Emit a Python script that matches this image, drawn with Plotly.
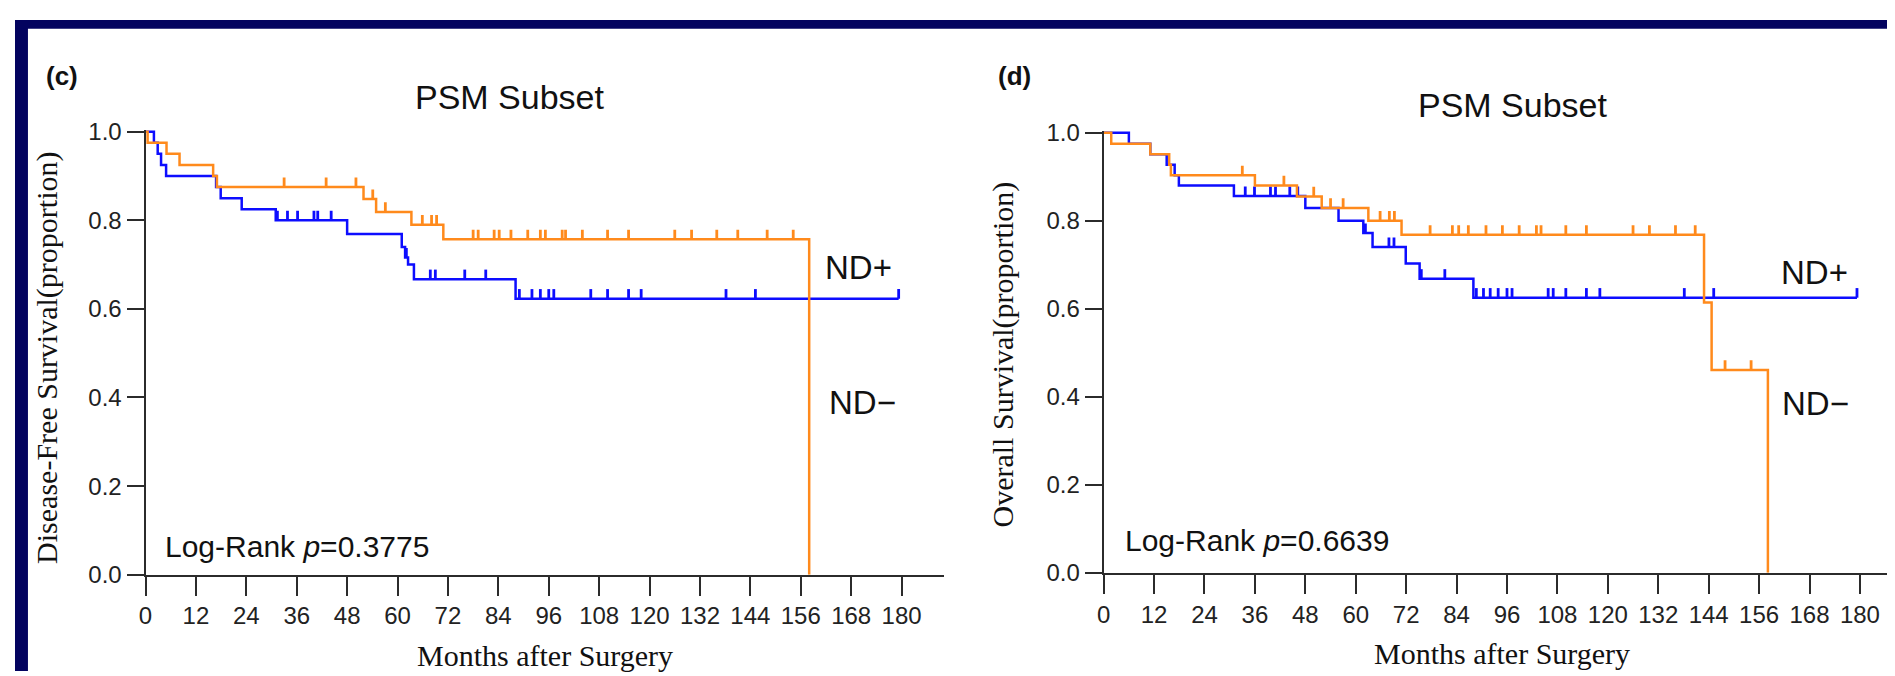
import plotly.graph_objects as go

W, H = 1895, 676

# ---------------- data ----------------
month_ticks = list(range(0, 181, 12))
surv_ticks = [0.0, 0.2, 0.4, 0.6, 0.8, 1.0]

# Panel (c) Disease-free survival
c_neg_times = [0.5, 5.0, 8.1, 16.1, 17.0, 51.9, 54.9, 63.3, 70.9, 158.0]
c_neg_surv = [0.975, 0.950, 0.925, 0.900, 0.875, 0.848, 0.819, 0.790, 0.757, 0.0]
c_neg_cens = [33.0, 43.0, 50.1, 54.1, 57.1, 65.9, 68.1, 69.3, 78.0, 79.2, 83.0, 84.2,
              87.0, 91.0, 94.0, 95.2, 99.2, 100.0, 104.0, 110.0, 115.0, 126.0, 130.0,
              136.0, 141.0, 148.0, 154.2]

c_pos_times = [2.0, 2.9, 3.7, 4.9, 16.8, 17.9, 22.9, 31.0, 48.0, 61.0, 61.8, 62.5, 63.9, 88.1]
c_pos_surv = [0.975, 0.950, 0.925, 0.900, 0.875, 0.850, 0.825, 0.800, 0.769, 0.740,
              0.716, 0.700, 0.667, 0.623]
c_pos_cens = [31.4, 33.8, 36.2, 40.1, 41.0, 44.2, 62.1, 67.8, 69.0, 76.0, 81.0, 89.0,
              92.0, 94.0, 96.0, 97.2, 106.0, 110.0, 115.0, 118.0, 138.2, 145.2, 179.3]

# Panel (d) Overall survival
d_neg_times = [1.8, 11.1, 15.6, 16.0, 36.0, 46.0, 51.9, 63.0, 70.9, 142.9, 144.7, 158.1]
d_neg_surv = [0.975, 0.951, 0.927, 0.903, 0.880, 0.855, 0.829, 0.800, 0.768, 0.614, 0.461, 0.0]
d_neg_cens = [33.0, 42.9, 50.0, 54.0, 57.0, 65.8, 68.0, 69.2, 77.7, 83.0, 84.5, 86.8,
              91.0, 94.9, 98.9, 103.0, 104.1, 110.0, 114.9, 126.0, 129.9, 136.1, 140.8,
              147.9, 154.1]

d_pos_times = [6.0, 11.1, 15.0, 16.9, 17.9, 31.0, 48.0, 55.9, 61.8, 64.0, 71.9, 75.2, 88.0]
d_pos_surv = [0.975, 0.951, 0.927, 0.903, 0.880, 0.856, 0.829, 0.800, 0.772, 0.740,
              0.703, 0.668, 0.625]
d_pos_cens = [33.7, 35.9, 39.7, 40.9, 44.3, 46.2, 62.3, 67.9, 69.1, 75.6, 81.2, 88.7,
              90.4, 92.0, 93.9, 96.0, 97.2, 105.8, 107.0, 110.0, 114.9, 118.1, 138.2,
              145.2, 179.3]

# ---------------- style ----------------
ORANGE = "#FF8A1C"
BLUE = "#0D0DFF"
AXIS = "#2b2b2b"
NAVY = "#03035F"
SANS = "Liberation Sans, Arial, sans-serif"
SERIF = "Liberation Serif, Times New Roman, serif"

# pixel layout
c_x0, c_ppm = 131.0, 4.216
d_x0, d_ppm = 1092.7, 4.217
c_xmax, d_xmax = 190, 189
c_ybot, c_ytop = 576.0, 116.0
d_ybot, d_ytop = 574.0, 117.0
YTOP = 1.004
CENS_PX = 10.0


def step_path(times, surv, cens):
    xs = [0.0] + list(times)
    ys = [1.0] + list(surv)
    end = max(cens) if cens else times[-1]
    if end > times[-1] and surv[-1] > 0:
        xs.append(end)
        ys.append(surv[-1])
    return xs, ys


def surv_at(t, times, surv):
    s = 1.0
    for ti, si in zip(times, surv):
        if ti <= t:
            s = si
    return s


def add_curve(fig, times, surv, cens, color, xa, ya, unit_px):
    xs, ys = step_path(times, surv, cens)
    fig.add_trace(go.Scatter(x=xs, y=ys, mode="lines", line=dict(color=color, width=2.5, shape="hv"),
                             xaxis=xa, yaxis=ya, showlegend=False, hoverinfo="skip"))
    d = CENS_PX / unit_px
    cx, cy = [], []
    for t in cens:
        s = surv_at(t, times, surv)
        cx += [t, t, None]
        cy += [s, s + d, None]
    fig.add_trace(go.Scatter(x=cx, y=cy, mode="lines", line=dict(color=color, width=2.8),
                             xaxis=xa, yaxis=ya, showlegend=False, hoverinfo="skip"))


fig = go.Figure()
c_unit = c_ybot - c_ytop
d_unit = d_ybot - d_ytop
add_curve(fig, c_pos_times, c_pos_surv, c_pos_cens, BLUE, "x", "y", c_unit)
add_curve(fig, c_neg_times, c_neg_surv, c_neg_cens, ORANGE, "x", "y", c_unit)
add_curve(fig, d_pos_times, d_pos_surv, d_pos_cens, BLUE, "x2", "y2", d_unit)
add_curve(fig, d_neg_times, d_neg_surv, d_neg_cens, ORANGE, "x2", "y2", d_unit)


def px_x(p):
    return p / W


def px_y(p):
    return 1 - p / H


axis_common = dict(showline=True, linecolor=AXIS, linewidth=2, ticks="outside", tickwidth=2,
                   tickcolor=AXIS, showgrid=False, zeroline=False,
                   tickfont=dict(family=SANS, size=24, color="#222"))

c_top_px = c_ytop - (YTOP - 1) * c_unit
d_top_px = d_ytop - (YTOP - 1) * d_unit

fig.update_layout(
    width=W, height=H,
    margin=dict(l=0, r=0, t=0, b=0),
    paper_bgcolor="white", plot_bgcolor="white",
    xaxis=dict(domain=[px_x(c_x0), px_x(c_x0 + c_xmax * c_ppm)], range=[0, c_xmax],
               tickvals=month_ticks, ticklen=19, anchor="y", **axis_common),
    yaxis=dict(domain=[px_y(c_ybot), px_y(c_top_px)], range=[0, YTOP],
               tickvals=surv_ticks, tickformat=".1f", ticklen=17, anchor="x", **axis_common),
    xaxis2=dict(domain=[px_x(d_x0), px_x(d_x0 + d_xmax * d_ppm)], range=[0, d_xmax],
                tickvals=month_ticks, ticklen=19, anchor="y2", **axis_common),
    yaxis2=dict(domain=[px_y(d_ybot), px_y(d_top_px)], range=[0, YTOP],
                tickvals=surv_ticks, tickformat=".1f", ticklen=17, anchor="x2", **axis_common),
)


def ann(text, x, y, size, family=SANS, angle=0, bold=False):
    t = f"<b>{text}</b>" if bold else text
    fig.add_annotation(text=t, x=px_x(x), y=px_y(y), xref="paper", yref="paper",
                       xanchor="center", yanchor="middle", showarrow=False, textangle=angle,
                       font=dict(family=family, size=size, color="#111"))


# panel labels and titles
ann("(c)", 47, 58, 26, bold=True)
ann("(d)", 1003, 58, 26, bold=True)
ann("PSM Subset", 497, 80, 34)
ann("PSM Subset", 1504, 88, 34)
# curve labels
ann("ND+", 847, 257, 33)
ann("ND\u2212", 851, 397, 33)
ann("ND+", 1806, 262, 33)
ann("ND\u2212", 1807, 398, 33)
# log-rank
ann("Log-Rank <i>p</i>=0.3775", 283, 547, 30)
ann("Log-Rank <i>p</i>=0.6639", 1247, 541, 30)
# axis titles
ann("Disease-Free Survival(proportion)", 32, 351, 30, family=SERIF, angle=-90)
ann("Overall Survival(proportion)", 992, 347, 30, family=SERIF, angle=-90)
ann("Months after Surgery", 532, 660, 30, family=SERIF)
ann("Months after Surgery", 1493, 658, 30, family=SERIF)

# dark frame on the top and left edges
fig.add_shape(type="rect", xref="paper", yref="paper", x0=0, x1=13 / W, y0=0, y1=1,
              fillcolor=NAVY, line=dict(width=0), layer="above")
fig.add_shape(type="rect", xref="paper", yref="paper", x0=0, x1=1, y0=1 - 9 / H, y1=1,
              fillcolor=NAVY, line=dict(width=0), layer="above")

fig.write_html("out.html")
